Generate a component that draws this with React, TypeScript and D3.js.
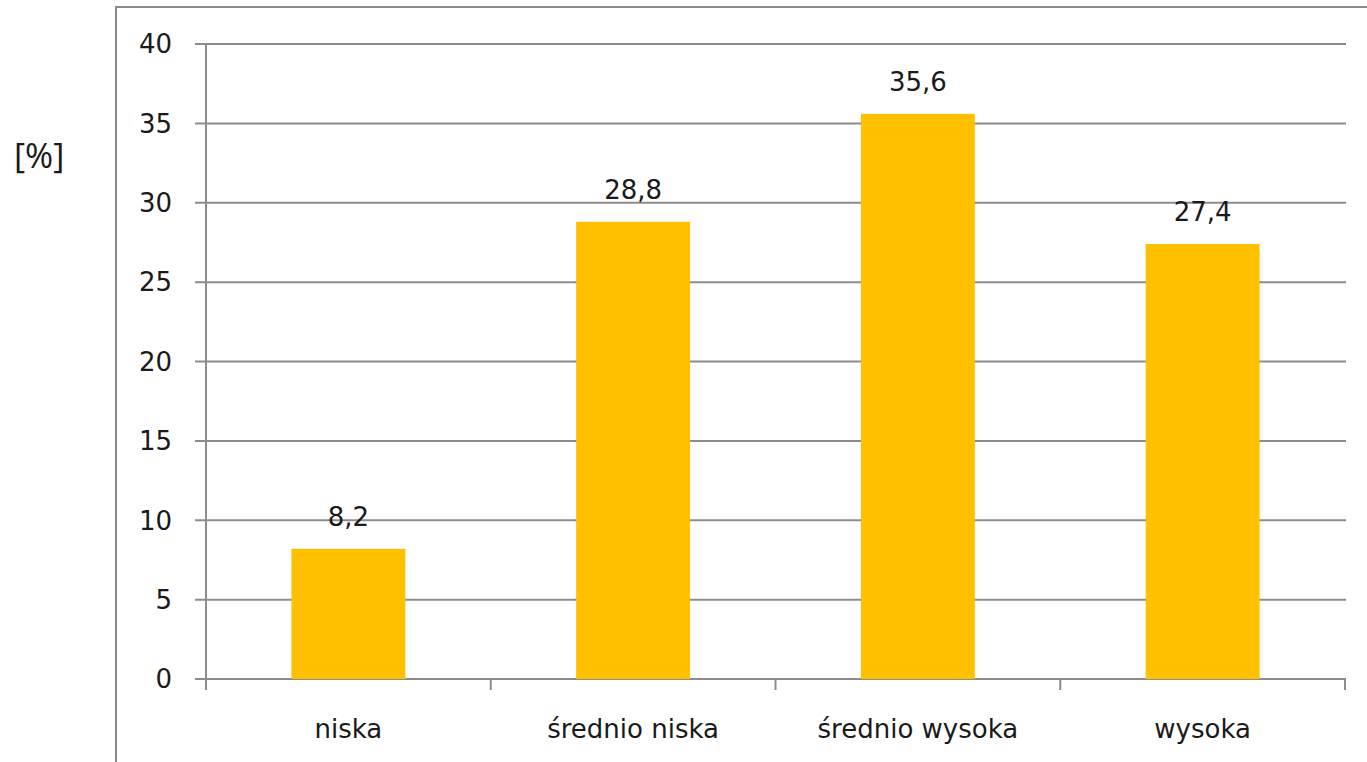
import React from "react";
import * as d3 from "d3";

const categories = ["niska", "średnio niska", "średnio wysoka", "wysoka"];
const values = [8.2, 28.8, 35.6, 27.4];
const valueLabels = ["8,2", "28,8", "35,6", "27,4"];
const yTicks = [0, 5, 10, 15, 20, 25, 30, 35, 40];

export default function App() {
  const W = 1367, H = 762;
  const left = 206, right = 1345, top = 44, bottom = 679;
  const x = d3.scaleBand<string>().domain(categories).range([left, right]).paddingInner(0.6).paddingOuter(0.3);
  const xOuter = d3.scaleBand<string>().domain(categories).range([left, right]);
  const y = d3.scaleLinear().domain([0, 40]).range([bottom, top]);
  const font = "'DejaVu Sans', Verdana, sans-serif";
  const grid = "#8c8c8c";
  const fs = 26;
  const boundaries = [...categories.map((c) => xOuter(c)!), right];
  return (
    <svg width={W} height={H} style={{ position: "absolute", left: 0, top: 0, background: "#fff" }}>
      <rect x={116} y={7} width={W} height={H} fill="#fff" stroke="#8a8a8a" strokeWidth={2} />
      {yTicks.map((t) => (
        <g key={t}>
          <line x1={195} x2={1346} y1={y(t)} y2={y(t)} stroke={grid} strokeWidth={2} />
          <text x={172} y={y(t)} dy="0.36em" textAnchor="end" fontFamily={font} fontSize={fs} fill="#1a1a1a">
            {t}
          </text>
        </g>
      ))}
      <line x1={left} x2={left} y1={top} y2={690} stroke={grid} strokeWidth={2} />
      {boundaries.map((b, i) => (
        <line key={i} x1={b} x2={b} y1={bottom} y2={690} stroke={grid} strokeWidth={2} />
      ))}
      {categories.map((c, i) => (
        <g key={c}>
          <rect x={x(c)} y={y(values[i])} width={x.bandwidth()} height={bottom - y(values[i])} fill="#FFC000" />
          <text x={x(c)! + x.bandwidth() / 2} y={y(values[i]) - 23} textAnchor="middle" fontFamily={font} fontSize={fs} fill="#1a1a1a">
            {valueLabels[i]}
          </text>
          <text x={xOuter(c)! + xOuter.bandwidth() / 2} y={738} textAnchor="middle" fontFamily={font} fontSize={fs} fill="#1a1a1a">
            {c}
          </text>
        </g>
      ))}
      <text x={14} y={168} fontFamily="'Open Sans', sans-serif" fontSize={34} fill="#1a1a1a">[%]</text>
    </svg>
  );
}
